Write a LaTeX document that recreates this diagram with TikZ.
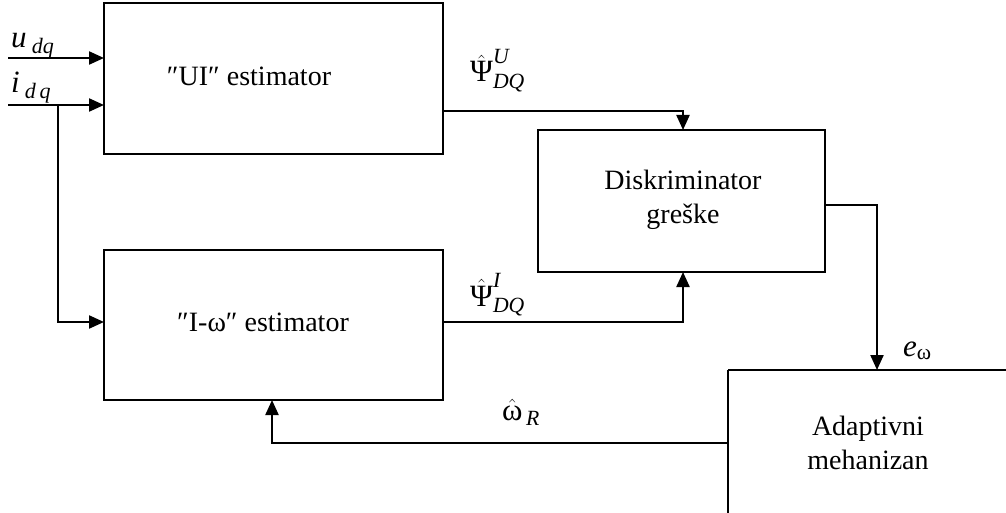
\documentclass[tikz,border=0pt]{standalone}
\usepackage{amsmath}
\usepackage{fontspec}
\setmainfont{Liberation Serif}
\usetikzlibrary{arrows.meta}
\tikzset{
  blk/.style={draw, line width=2.4pt},
  conn/.style={line width=2.2pt, -{Triangle[length=15pt,width=13pt]}},
  txt/.style={font=\fontsize{28}{32}\selectfont, align=center, inner sep=0pt},
  lbl/.style={font=\fontsize{31}{35}\selectfont, inner sep=0pt}
}
\begin{document}
\begin{tikzpicture}[x=1pt,y=-1pt]
\useasboundingbox (0,0) rectangle (1006,513);
% boxes
\draw[blk] (104,3) rectangle (443,154);
\draw[blk] (104,250) rectangle (443,400);
\draw[blk] (538,130) rectangle (825,272);
\draw[blk] (728,370) -- (1014,370) (728,370) -- (728,522);
% box texts
\node[txt] (ui) at (249,76) {″UI″ estimator};
\node[txt] (iw) at (263,322) {″I-ω″ estimator};
\node[txt] (dis) at (683,200) {Diskriminator\\[2pt]greške};
\node[txt] (ad) at (868,443) {Adaptivni\\[2pt]mehanizan};
% named coordinates
\coordinate (uin) at (8,58);
\coordinate (uend) at (104,58);
\coordinate (iin) at (8,105);
\coordinate (iend) at (104,105);
\coordinate (br) at (58,105);
\coordinate (iwin) at (104,322);
\coordinate (uiout) at (443,111);
\coordinate (dtop) at (683,130);
\coordinate (iwout) at (443,322);
\coordinate (dbot) at (683,272);
\coordinate (dout) at (825,205);
\coordinate (adtop) at (877,370);
\coordinate (adout) at (728,443);
\coordinate (iwbot) at (272,400);
% connectors
\draw[conn] (uin) -- (uend);
\draw[conn] (iin) -- (iend);
\draw[conn] (br) |- (iwin);
\draw[conn] (uiout) -| (dtop);
\draw[conn] (iwout) -| (dbot);
\draw[conn] (dout) -| (adtop);
\draw[conn] (adout) -| (iwbot);
% labels
\node[lbl, anchor=base west] at (11,48) {\textit{u}\,\raisebox{-0.4ex}{\fontsize{22}{26}\selectfont\textit{dq}}};
\node[lbl, anchor=base west] at (11,93) {\textit{i}\,\raisebox{-0.4ex}{\fontsize{22}{26}\selectfont\textit{d\,q}}};
\node[lbl, anchor=base west] at (470,82) {$\hat{\text{Ψ}}^{\text{\itshape U}}_{\text{\itshape DQ}}$};
\node[lbl, anchor=base west] at (470,306) {$\hat{\text{Ψ}}^{\text{\itshape I}}_{\text{\itshape DQ}}$};
\node[lbl, anchor=base west] at (502,420) {$\hat{\text{ω}}_{\,\text{\itshape R}}$};
\node[lbl, anchor=base west] at (903,356) {$\text{\itshape e}_{\text{ω}}$};
\end{tikzpicture}
\end{document}
